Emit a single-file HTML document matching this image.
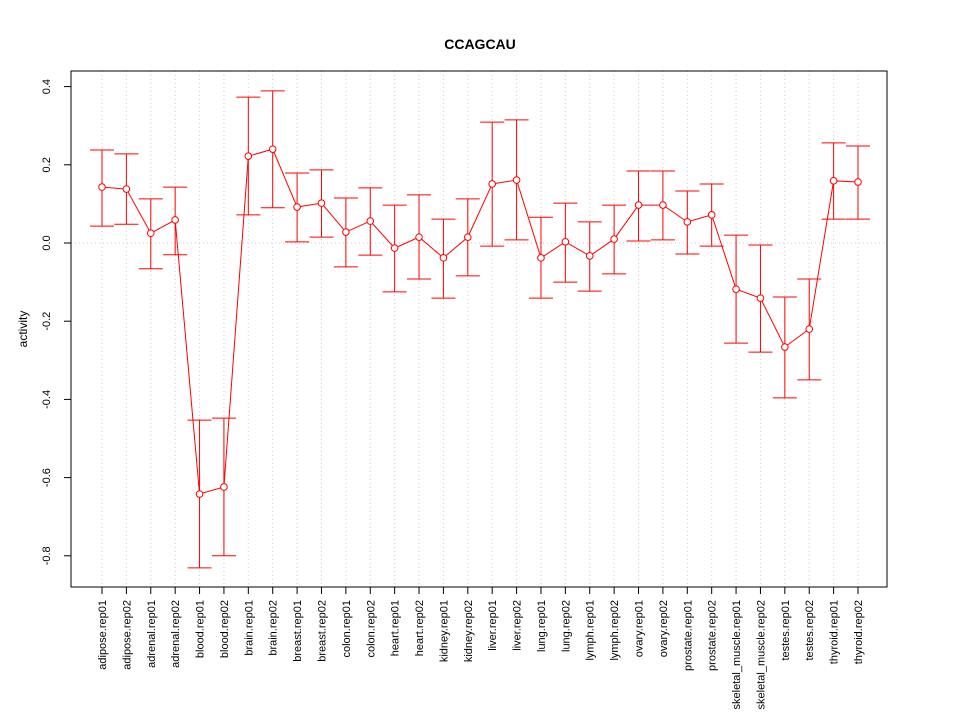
<!DOCTYPE html>
<html><head><meta charset="utf-8"><style>
body{margin:0;background:#fff}
svg{display:block;font-family:"Liberation Sans",Arial,sans-serif}
</style></head><body>
<svg id="chart" width="960" height="720">
<text x="480" y="49" text-anchor="middle" font-size="14" font-weight="bold">CCAGCAU</text>
<text transform="translate(27,329) rotate(-90)" text-anchor="middle" font-size="12">activity</text>
<g id="grid"></g><g id="yaxis"></g><g id="xaxis"></g><g id="series"></g>
<rect x="71" y="71" width="816" height="516" fill="none" stroke="#000"/>
</svg>
<script>
const categories=["adipose.rep01","adipose.rep02","adrenal.rep01","adrenal.rep02","blood.rep01","blood.rep02","brain.rep01","brain.rep02","breast.rep01","breast.rep02","colon.rep01","colon.rep02","heart.rep01","heart.rep02","kidney.rep01","kidney.rep02","liver.rep01","liver.rep02","lung.rep01","lung.rep02","lymph.rep01","lymph.rep02","ovary.rep01","ovary.rep02","prostate.rep01","prostate.rep02","skeletal_muscle.rep01","skeletal_muscle.rep02","testes.rep01","testes.rep02","thyroid.rep01","thyroid.rep02"];
const values=[0.143,0.138,0.025,0.059,-0.642,-0.624,0.222,0.240,0.092,0.102,0.028,0.056,-0.013,0.015,-0.038,0.015,0.151,0.161,-0.038,0.003,-0.033,0.010,0.097,0.097,0.054,0.072,-0.118,-0.141,-0.266,-0.220,0.159,0.156];
const upper=[0.238,0.228,0.113,0.143,-0.453,-0.448,0.373,0.389,0.179,0.187,0.115,0.141,0.097,0.123,0.061,0.113,0.309,0.315,0.066,0.102,0.054,0.097,0.184,0.184,0.133,0.151,0.020,-0.005,-0.138,-0.092,0.256,0.248];
const lower=[0.043,0.048,-0.066,-0.030,-0.831,-0.800,0.072,0.090,0.003,0.015,-0.061,-0.031,-0.125,-0.092,-0.141,-0.084,-0.008,0.008,-0.141,-0.100,-0.123,-0.079,0.005,0.008,-0.028,-0.008,-0.256,-0.279,-0.396,-0.350,0.061,0.061];
const yTicks=[-0.8,-0.6,-0.4,-0.2,0.0,0.2,0.4];
const yTickLabels=["-0.8","-0.6","-0.4","-0.2","0.0","0.2","0.4"];
const NS="http://www.w3.org/2000/svg";
const y=v=>243-v*391;
const x=i=>102+i*(756/(categories.length-1));
function mk(tag,attrs,parent){const e=document.createElementNS(NS,tag);for(const k in attrs)e.setAttribute(k,attrs[k]);document.getElementById(parent).appendChild(e);return e;}
let e;
e=mk("line",{x1:71,x2:887,y1:y(0),y2:y(0),stroke:"#ccc","stroke-dasharray":"1,3"},"grid");


categories.forEach((c,i)=>{
  e=mk("line",{x1:x(i),x2:x(i),y1:71,y2:587,stroke:"#ccc","stroke-dasharray":"1,3"},"grid");
  
  
  e=mk("line",{x1:x(i),x2:x(i),y1:587,y2:594,stroke:"#000"},"xaxis");
  
  
  e=mk("text",{transform:`translate(${x(i)+4},600) rotate(-90)`,"text-anchor":"end","font-size":"11"},"xaxis");
  e.textContent=c;
  
  
});
e=mk("line",{x1:x(0),x2:x(categories.length-1),y1:587,y2:587,stroke:"#000"},"xaxis");
yTicks.forEach((t,i)=>{
  e=mk("line",{x1:64,x2:71,y1:y(t),y2:y(t),stroke:"#000"},"yaxis");
  
  
  e=mk("text",{transform:`translate(50,${y(t)}) rotate(-90)`,"text-anchor":"middle","font-size":"11"},"yaxis");
  e.textContent=yTickLabels[i];
  
  
});
e=mk("polyline",{points:values.map((v,i)=>x(i)+","+y(v)).join(" "),fill:"none",stroke:"#f00"},"series");


values.forEach((v,i)=>{
  const cx=x(i);
  e=mk("path",{d:`M${cx},${y(upper[i])}V${y(lower[i])}M${cx-12},${y(upper[i])}H${cx+12}M${cx-12},${y(lower[i])}H${cx+12}`,stroke:"#f00",fill:"none"},"series");
  
  
  e=mk("circle",{cx:cx,cy:y(v),r:3.3,fill:"#fff",stroke:"#f00"},"series");
  
  
});
</script>
</body></html>
